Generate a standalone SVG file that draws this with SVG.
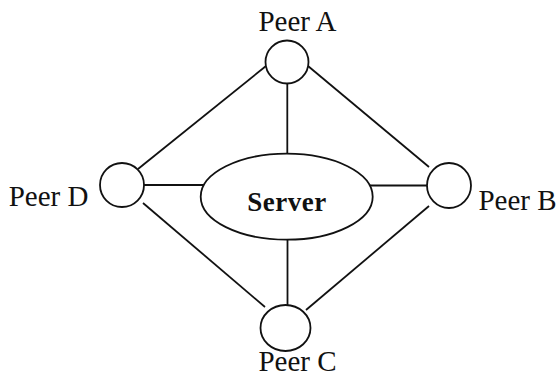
<svg xmlns="http://www.w3.org/2000/svg" width="556" height="378" viewBox="0 0 556 378">
<style>
.shape{fill:#fff;stroke:#111;stroke-width:1.8}
.conn line{stroke:#111;stroke-width:1.8}
.lbl{font-family:"Liberation Serif","Times New Roman",serif;font-size:29px;fill:#111}
.srv{font-family:"Liberation Serif","Times New Roman",serif;font-size:27px;font-weight:bold;fill:#111}
</style>
<rect width="556" height="378" fill="#fff"/>
<g id="connectors" class="conn">
<line x1="266" y1="66" x2="138" y2="169"/>
<line x1="308" y1="66" x2="429" y2="167"/>
<line x1="143" y1="203" x2="265" y2="307"/>
<line x1="306" y1="310" x2="429" y2="206"/>
<line x1="287.3" y1="83" x2="287.3" y2="154"/>
<line x1="287.5" y1="240" x2="287.5" y2="306"/>
<line x1="144" y1="185" x2="204" y2="185"/>
<line x1="370" y1="185.5" x2="427" y2="185.5"/>
</g>
<g id="server">
<ellipse class="shape" cx="286.7" cy="196.7" rx="86" ry="43"/>
<text class="srv" x="287" y="211" text-anchor="middle" letter-spacing="0.5">Server</text>
</g>
<g id="peerA">
<ellipse class="shape" cx="287" cy="62" rx="21.5" ry="21.5"/>
<text class="lbl" x="297.5" y="31" text-anchor="middle">Peer A</text>
</g>
<g id="peerB">
<ellipse class="shape" cx="449" cy="185.5" rx="22" ry="22.5"/>
<text class="lbl" x="517.5" y="210" text-anchor="middle">Peer B</text>
</g>
<g id="peerC">
<ellipse class="shape" cx="285.5" cy="328" rx="25" ry="23"/>
<text class="lbl" x="297.5" y="371" text-anchor="middle">Peer C</text>
</g>
<g id="peerD">
<ellipse class="shape" cx="122" cy="185" rx="22" ry="22"/>
<text class="lbl" x="48.5" y="206" text-anchor="middle">Peer D</text>
</g>
</svg>
